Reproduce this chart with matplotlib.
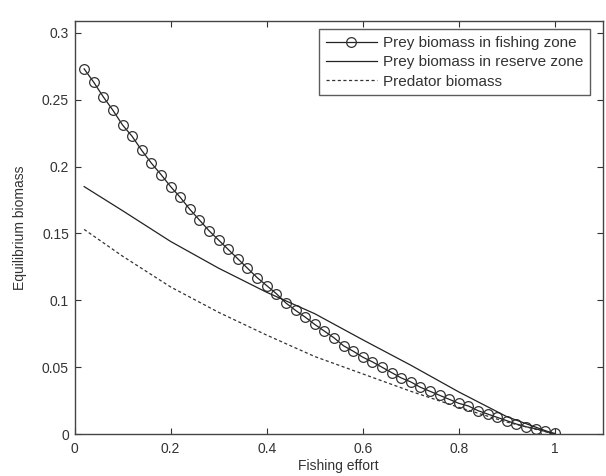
import matplotlib
matplotlib.use("Agg")
import matplotlib.pyplot as plt

plt.rcParams['font.family'] = ['Liberation Sans', 'DejaVu Sans']

# Fishing effort grid for the prey-in-fishing-zone series (circles)
effort = [0.02, 0.04, 0.06, 0.08, 0.10, 0.12, 0.14, 0.16, 0.18, 0.20,
          0.22, 0.24, 0.26, 0.28, 0.30, 0.32, 0.34, 0.36, 0.38, 0.40,
          0.42, 0.44, 0.46, 0.48, 0.50, 0.52, 0.54, 0.56, 0.58, 0.60,
          0.62, 0.64, 0.66, 0.68, 0.70, 0.72, 0.74, 0.76, 0.78, 0.80,
          0.82, 0.84, 0.86, 0.88, 0.90, 0.92, 0.94, 0.96, 0.98, 1.00]
prey_fishing = [0.273, 0.263, 0.252, 0.242, 0.231, 0.2225, 0.212, 0.2025, 0.194, 0.185,
                0.177, 0.168, 0.160, 0.152, 0.145, 0.138, 0.131, 0.124, 0.117, 0.111,
                0.105, 0.098, 0.0925, 0.0875, 0.082, 0.077, 0.072, 0.066, 0.062, 0.0575,
                0.054, 0.050, 0.046, 0.042, 0.039, 0.035, 0.032, 0.029, 0.026, 0.023,
                0.021, 0.0175, 0.015, 0.0125, 0.010, 0.0075, 0.0055, 0.004, 0.002, 0.0005]

# Sparser grid for the smooth curves
effort_line = [0.02, 0.1, 0.2, 0.3, 0.4, 0.5, 0.6, 0.7, 0.8, 0.9, 1.0]
prey_reserve = [0.185, 0.167, 0.144, 0.124, 0.106, 0.090, 0.0705, 0.0515, 0.0315, 0.013, 0.0]
predator = [0.153, 0.133, 0.110, 0.091, 0.074, 0.058, 0.045, 0.032, 0.020, 0.009, 0.0]

labels = ["Prey biomass in fishing zone", "Prey biomass in reserve zone", "Predator biomass"]
xticks = [0, 0.2, 0.4, 0.6, 0.8, 1]
yticks = [0, 0.05, 0.1, 0.15, 0.2, 0.25, 0.3]

fig = plt.figure(figsize=(6.06, 4.76), dpi=100)
ax = fig.add_axes([0.123, 0.088, 0.872, 0.8685])

ax.plot(effort, prey_fishing, color='#222222', lw=0.9, marker='o', markersize=7,
        markerfacecolor='none', markeredgecolor='#333333', markeredgewidth=0.9,
        label=labels[0])
ax.plot(effort_line, prey_reserve, color='#222222', lw=0.9, label=labels[1])
ax.plot(effort_line, predator, color='#333333', lw=0.9, dashes=(2.5, 2), label=labels[2])

ax.set_xlim(0, 1.1)
ax.set_ylim(0, 0.309)
ax.set_xticks(xticks)
ax.set_xticklabels([f"{t:g}" for t in xticks])
ax.set_yticks(yticks)
ax.set_yticklabels([f"{t:g}" for t in yticks])
ax.tick_params(direction='in', top=True, right=True, length=4, width=0.8,
               labelsize=10, colors='#333333', pad=4)
ax.tick_params(axis='x', pad=6)
for s in ax.spines.values():
    s.set_color('#444444')
    s.set_linewidth(1.0)

ax.set_xlabel("Fishing effort", fontsize=10, color='#333333', labelpad=2)
ax.set_ylabel("Equilibrium biomass", fontsize=10, color='#333333', labelpad=11)

leg = ax.legend(loc='upper right', bbox_to_anchor=(0.9754, 0.98), fontsize=11,
                frameon=True, fancybox=False, handlelength=3.3, labelspacing=0.35,
                borderpad=0.45, handletextpad=0.4, borderaxespad=0)
leg.get_frame().set_edgecolor('#333333')
leg.get_frame().set_linewidth(1.0)
for t in leg.get_texts():
    t.set_color('#333333')

fig.savefig("out.png", dpi=100)
